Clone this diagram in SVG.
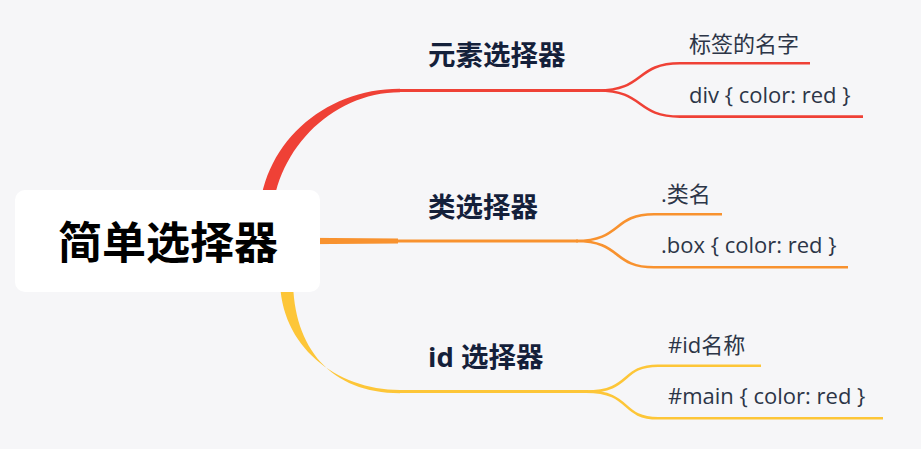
<svg xmlns="http://www.w3.org/2000/svg" width="921" height="449" viewBox="0 0 921 449">
<style>
.bg{fill:#f6f6f8}
.root-box{fill:#ffffff}
.root-text{font-family:"Noto Sans CJK SC","Noto Sans",sans-serif;font-weight:700;font-size:44px;fill:#000000}
.branch-text{font-family:"Open Sans","Noto Sans CJK SC",sans-serif;font-weight:700;font-size:27.5px;fill:#14203a}
.leaf-text{font-family:"Open Sans","Noto Sans CJK SC",sans-serif;font-size:22px;fill:#2c3547}
.line{fill:none;stroke-width:3;stroke-linecap:butt}
.leaf{fill:none;stroke-width:2.6}
.red{stroke:#ef4136}
.orange{stroke:#f8922f}
.yellow{stroke:#fdc638}
</style>
<rect class="bg" x="0" y="0" width="921" height="449"/>
<g id="connectors">
  <path d="M259,241 L259,223 C259,145 324,88.5 400,88.8 L400,92.2 C330,92.2 272,154 272,223 L272,241 Z" fill="#ef4136"/>
  <path d="M300,237.8 L398,238.6 L398,243.4 L300,244.2 Z" fill="#f8922f"/>
  <path d="M280,241 L280,279 C280,346 336,389.8 400,390 L400,393.2 C331,393.2 293,348 293,279 L293,241 Z" fill="#fdc638"/>
  <path class="line red" d="M399,90.5 L600,90.5"/>
  <path class="line orange" d="M397,241 L578,241"/>
  <path class="line yellow" d="M399,391.6 L588,391.6"/>
  <path class="leaf red" d="M598,90.5 C645,90.5 635,63.3 680,63.3 L810,63.3"/>
  <path class="leaf red" d="M598,90.5 C645,90.5 635,116.6 680,116.6 L863,116.6"/>
  <path class="leaf orange" d="M576,241 C622,241 612,214.3 654,214.3 L722,214.3"/>
  <path class="leaf orange" d="M576,241 C622,241 612,267.3 654,267.3 L848,267.3"/>
  <path class="leaf yellow" d="M586,391.6 C632,391.6 620,365.7 658,365.7 L761,365.7"/>
  <path class="leaf yellow" d="M586,391.6 C632,391.6 620,418.3 658,418.3 L883,418.3"/>
</g>
<g id="root">
  <rect class="root-box" x="15" y="190" width="305" height="102" rx="10"/>
  <text class="root-text" x="168" y="259" text-anchor="middle">简单选择器</text>
</g>
<g id="branch-element">
  <text class="branch-text" x="428" y="65">元素选择器</text>
</g>
<g id="branch-class">
  <text class="branch-text" x="428" y="216.5">类选择器</text>
</g>
<g id="branch-id">
  <text class="branch-text" x="428" y="366.5">id 选择器</text>
</g>
<g id="leaf-tag-name">
  <text class="leaf-text" x="689" y="52">标签的名字</text>
</g>
<g id="leaf-div">
  <text class="leaf-text" x="689" y="103.3">div { color: red }</text>
</g>
<g id="leaf-class-name">
  <text class="leaf-text" x="661" y="202">.类名</text>
</g>
<g id="leaf-box">
  <text class="leaf-text" x="661" y="253.3">.box { color: red }</text>
</g>
<g id="leaf-id-name">
  <text class="leaf-text" x="668" y="352.5">#id名称</text>
</g>
<g id="leaf-main">
  <text class="leaf-text" x="668" y="404">#main { color: red }</text>
</g>
</svg>
